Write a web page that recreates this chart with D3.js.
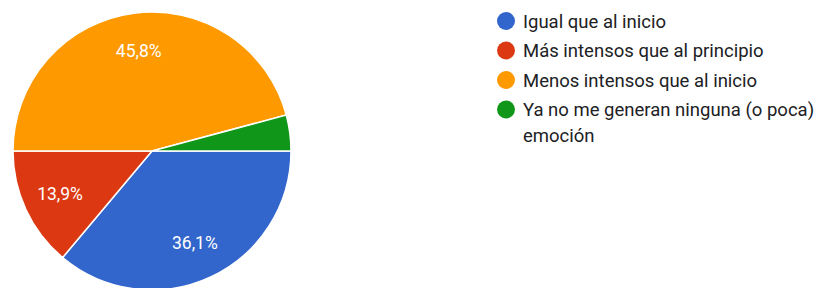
<!DOCTYPE html>
<html><head><meta charset="utf-8">
<script src="https://cdn.jsdelivr.net/npm/d3@7"></script>
<style>html,body{margin:0;padding:0;background:#fff;overflow:hidden}</style>
</head><body>
<svg id="c" width="823" height="288"></svg>
<script>
const categories = ["Igual que al inicio", "Más intensos que al principio", "Menos intensos que al inicio", "Ya no me generan ninguna (o poca) emoción"];
const counts = [26, 10, 33, 3];
const percentLabels = ["36,1%", "13,9%", "45,8%", "4,2%"];
const colors = ["#3366cc", "#dc3912", "#ff9900", "#109618"];
const legendLines = [["Igual que al inicio"], ["Más intensos que al principio"], ["Menos intensos que al inicio"], ["Ya no me generan ninguna (o poca)", "emoción"]];

const svg = d3.select("#c");
const cx = 152, cy = 151, r = 139;
const pie = d3.pie().sort(null).value(d => d)
  .startAngle(Math.PI / 2).endAngle(Math.PI / 2 + 2 * Math.PI);
const arcs = pie(counts);
const arc = d3.arc().innerRadius(0).outerRadius(r);
const labelArc = d3.arc().innerRadius(r * 0.73).outerRadius(r * 0.73);
const g = svg.append("g").attr("transform", `translate(${cx},${cy})`);
g.selectAll("path").data(arcs).join("path")
  .attr("d", arc).attr("fill", (d, i) => colors[i])
  .attr("stroke", "#fff").attr("stroke-width", 1.5);
g.selectAll("text").data(arcs.filter(d => (d.endAngle - d.startAngle) > 0.4)).join("text")
  .attr("transform", d => `translate(${labelArc.centroid(d)})`)
  .attr("text-anchor", "middle").attr("dy", "0.35em")
  .attr("fill", "#fff").attr("font-family", "Roboto, Arial, sans-serif").attr("font-size", 17.5)
  .text(d => percentLabels[d.index]);

const lg = svg.append("g").attr("transform", "translate(506,21)");
const rowY = [0, 29.5, 59, 88.5];
categories.forEach((c, i) => {
  const row = lg.append("g").attr("transform", `translate(0,${rowY[i]})`);
  row.append("circle").attr("r", 9).attr("fill", colors[i]);
  legendLines[i].forEach((t, j) => {
    row.append("text").attr("x", 17).attr("y", j * 26).attr("dy", "0.36em")
      .attr("fill", "#202124").attr("font-family", "Roboto, Arial, sans-serif").attr("font-size", 18.5)
      .text(t);
  });
});
</script>
</body></html>
